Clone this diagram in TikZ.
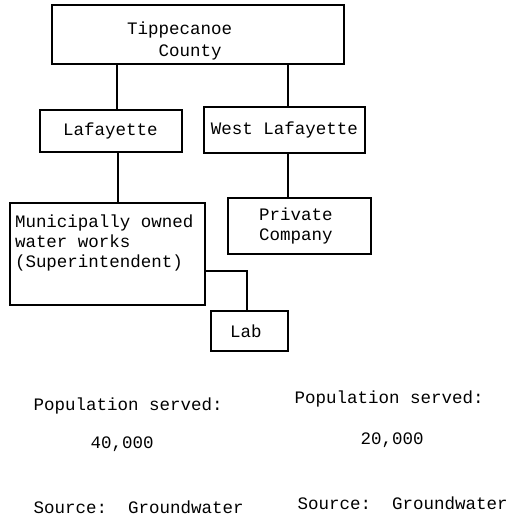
\documentclass[tikz,border=0pt]{standalone}
\usepackage{fontspec}
\setmainfont{Liberation Mono}

\begin{document}
\begin{tikzpicture}[x=1pt,y=-1pt,line width=1.2pt,
  font=\fontsize{17.5}{20}\selectfont,
  unit/.style={draw,rectangle,inner ysep=2pt,align=left},
  note/.style={anchor=west,inner sep=0pt}]
\useasboundingbox (0,0) rectangle (517,522);
\node[unit,minimum height=59pt,inner xsep=75pt,text width=142pt] (tippe) at (198,34.5) {\rule{0pt}{25pt}Tippecanoe\\[2pt]\phantom{Tip}County};
\node[unit,minimum height=42pt,inner xsep=23pt,text width=96pt] (laf) at (111,131) {Lafayette};
\node[unit,minimum height=46pt,minimum width=161pt,align=center] (wlaf) at (284.5,130) {West Lafayette};
\node[unit,minimum height=102pt,inner xsep=5pt,text width=185pt] (muni) at (107.5,254) {Municipally\hspace{10.5pt}owned\\water\hspace{10.5pt}works\\(Superintendent)\\\strut};
\node[unit,minimum height=56pt,inner xsep=31pt,text width=81pt] (priv) at (299.5,226) {Private\\Company};
\node[unit,minimum height=40pt,inner xsep=19pt,text width=39pt] (lab) at (249.5,331) {Lab};
\draw ([xshift=6pt]laf.north) -- ([xshift=6pt]laf.north |- tippe.south);
\draw ([xshift=3.5pt]wlaf.north) -- ([xshift=3.5pt]wlaf.north |- tippe.south);
\draw ([xshift=7pt]laf.south) -- ([xshift=7pt]laf.south |- muni.north);
\draw ([xshift=3.5pt]wlaf.south) -- ([xshift=3.5pt]wlaf.south |- priv.north);
\draw ([yshift=-17pt]muni.east) -| ([xshift=-2.5pt]lab.north);
% figures under each city
\node[note] (pop1) at (33,406) {Population served:};
\node[note] (num1) at (90,444) {40,000};
\node[note] (src1) at (33,507) {Source:~~Groundwater};
\node[note] (pop2) at (294,399) {Population served:};
\node[note] (num2) at (360,440) {20,000};
\node[note] (src2) at (297,503) {Source:~~Groundwater};
\end{tikzpicture}
\end{document}
